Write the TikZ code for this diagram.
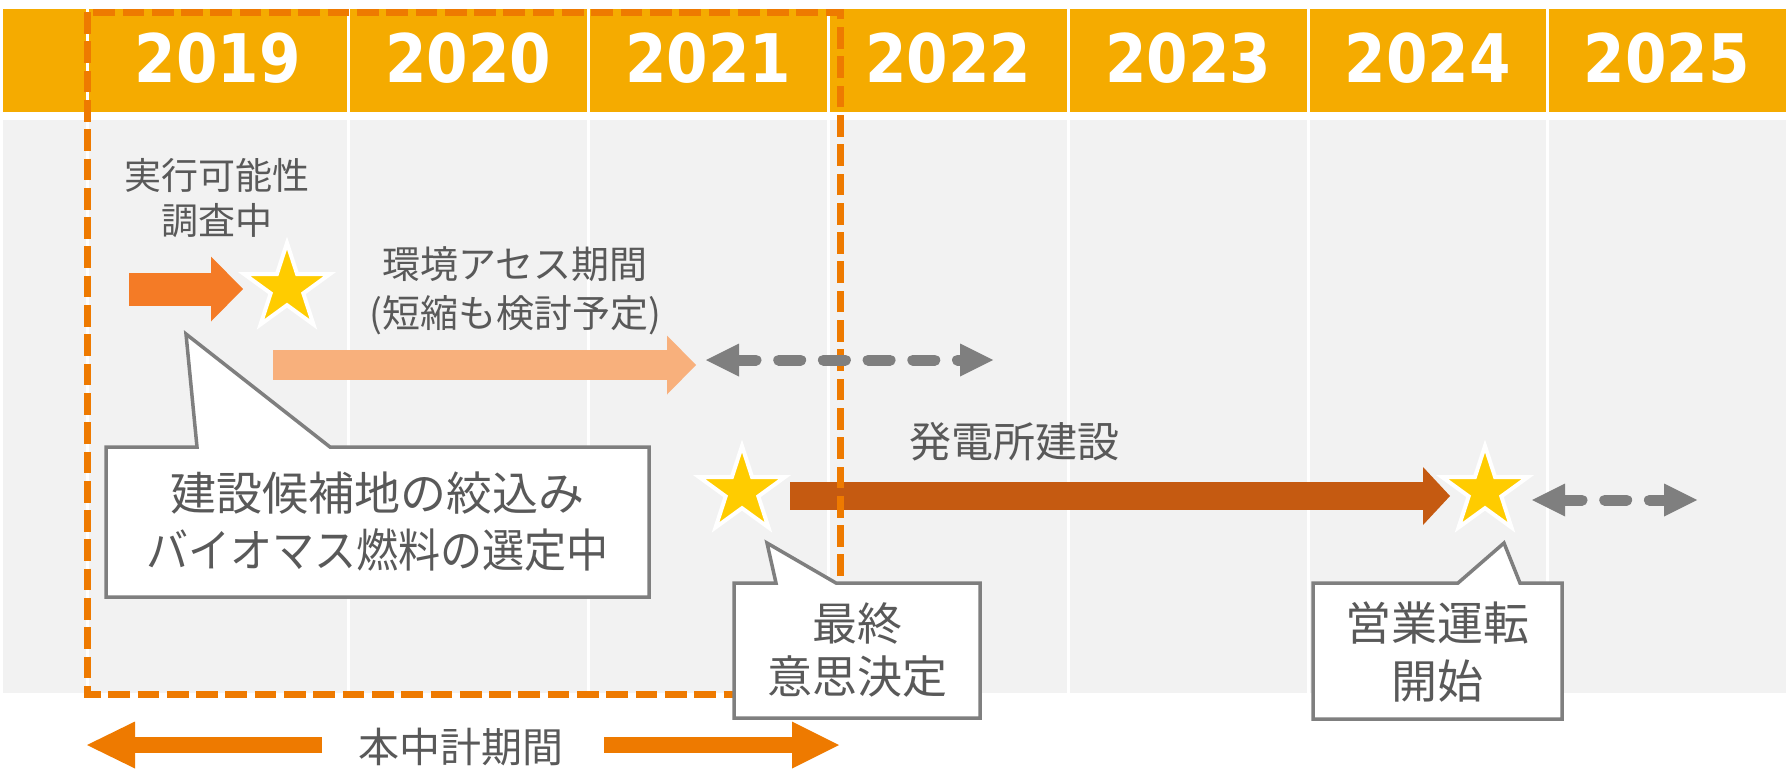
\documentclass[tikz,border=0pt]{standalone}
\usepackage{fontspec}
\usepackage{graphicx}
\usetikzlibrary{arrows.meta,shapes.geometric}
\newfontfamily\jp{Noto Sans CJK JP}
\newfontfamily\yearfont[FakeStretch=0.89]{DejaVu Sans}
\definecolor{hdr}{RGB}{245,171,0}
\definecolor{bgg}{RGB}{242,242,242}
\definecolor{dorange}{RGB}{238,122,0}
\definecolor{arrA}{RGB}{244,123,38}
\definecolor{arrB}{RGB}{248,176,124}
\definecolor{arrC}{RGB}{197,90,17}
\definecolor{staryel}{RGB}{255,204,0}
\definecolor{gr}{RGB}{127,127,127}
\definecolor{txt}{RGB}{89,89,89}
\tikzset{
  yearlbl/.style={text=white, inner sep=0pt, font=\yearfont\bfseries\fontsize{67pt}{70pt}\selectfont},
  lbl/.style={text=txt, inner sep=0pt, align=center},
  starnode/.style={star, star points=5, star point ratio=2.618, fill=staryel, draw=white, line width=4pt, line join=miter, inner sep=0pt, minimum size=90pt},
  calloutbox/.style={fill=white, draw=gr, line width=3.5pt, line join=miter},
  sep/.style={white, line width=3pt},
  dashrect/.style={dorange, line width=7pt, dash pattern=on 21.7pt off 7.6pt},
  greydash/.style={gr, line width=11pt, line cap=round, dash pattern=on 22pt off 22.7pt, dash phase=5pt,
     {Triangle[length=33pt,width=33pt,line width=0pt]}-{Triangle[length=33pt,width=33pt,line width=0pt]}}
}
\begin{document}
\begin{tikzpicture}[x=1pt,y=-1pt]
\useasboundingbox (0,0) rectangle (1789,779);
% bands
\fill[hdr] (3,9) rectangle (1786,112);
\fill[bgg] (3,120) rectangle (1786,693);
\foreach \x in {87,348,588,828,1068,1308,1547} \draw[sep] (\x,9) -- (\x,693);
% years
\node[yearlbl] (y2019) at (217.5,58) {2019};
\node[yearlbl] (y2020) at (468,58) {2020};
\node[yearlbl] (y2021) at (708,58) {2021};
\node[yearlbl] (y2022) at (948,58) {2022};
\node[yearlbl] (y2023) at (1188,58) {2023};
\node[yearlbl] (y2024) at (1427.5,58) {2024};
\node[yearlbl] (y2025) at (1666.5,58) {2025};
% arrow coordinates
\coordinate (aS) at (129,289);
\coordinate (aE) at (243,289);
\coordinate (bS) at (273,365);
\coordinate (bE) at (696,365);
\coordinate (cS) at (790,496);
\coordinate (cE) at (1450,496);
\coordinate (d1S) at (706,360);
\coordinate (d1E) at (993,360);
\coordinate (d2S) at (1532,500);
\coordinate (d2E) at (1697,500);
\coordinate (mL) at (322,745);
\coordinate (mLt) at (87,745);
\coordinate (mR) at (604,745);
\coordinate (mRt) at (839,745);
% block arrows
\draw[arrB, line width=30pt, -{Triangle[length=29pt,width=59pt,line width=0pt]}] (bS) -- (bE);
\draw[arrA, line width=33pt, -{Triangle[length=32pt,width=65pt,line width=0pt]}] (aS) -- (aE);
\draw[arrC, line width=28pt, -{Triangle[length=27pt,width=58pt,line width=0pt]}] (cS) -- (cE);
% stars
\node[starnode] (s1) at (287,288) {};
\node[starnode] (s2) at (742,491) {};
\node[starnode] (s3) at (1485,491) {};
% labels
\node[lbl, font=\jp\fontsize{37pt}{45pt}\selectfont] (l1) at (217,198.5) {実行可能性\\調査中};
\node[lbl, font=\jp\fontsize{38pt}{49pt}\selectfont] (l2) at (515,290.5) {環境アセス期間\\(短縮も検討予定)};
\node[lbl, font=\jp\fontsize{42pt}{50pt}\selectfont] (l3) at (1014,442) {発電所建設};
% period frame
\draw[dashrect] (87,12) rectangle (840,694);
% grey dashed double arrows
\draw[greydash] (d1S) -- (d1E);
\draw[greydash] (d2S) -- (d2E);
% callouts
\draw[calloutbox] (106,447) -- (197,447) -- (186,334) -- (330,447) -- (649,447) -- (649,597) -- (106,597) -- cycle;
\node[lbl, font=\jp\fontsize{46pt}{57pt}\selectfont] (c1) at (377.5,522) {建設候補地の絞込み\\\scalebox{0.915}[1]{バイオマス燃料の選定中}};
\draw[calloutbox] (734,583) -- (776,583) -- (767,543) -- (836,583) -- (980,583) -- (980,718) -- (734,718) -- cycle;
\node[lbl, font=\jp\fontsize{45pt}{53pt}\selectfont] (c2) at (857,650.5) {最終\\意思決定};
\draw[calloutbox] (1313,583) -- (1458,583) -- (1504,543) -- (1520,583) -- (1562,583) -- (1562,719) -- (1313,719) -- cycle;
\node[lbl, font=\jp\fontsize{46pt}{58pt}\selectfont] (c3) at (1437.5,652) {営業運転\\開始};
% mid-term plan period
\draw[dorange, line width=16pt, -{Triangle[length=48pt,width=47pt,line width=0pt]}] (mL) -- (mLt);
\draw[dorange, line width=16pt, -{Triangle[length=47pt,width=47pt,line width=0pt]}] (mR) -- (mRt);
\node[lbl, font=\jp\fontsize{41pt}{48pt}\selectfont] (plan) at (461,747) {本中計期間};
\end{tikzpicture}
\end{document}
